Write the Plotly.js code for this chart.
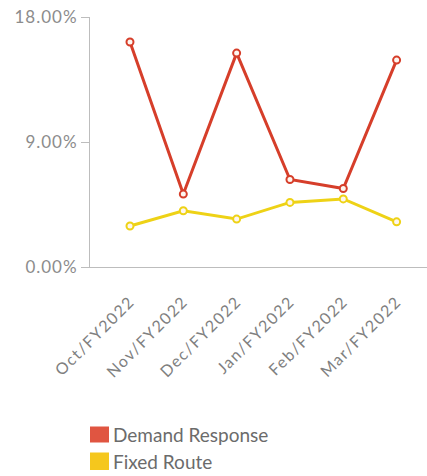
<!DOCTYPE html>
<html>
<head>
<meta charset="utf-8">
<script src="https://cdn.plot.ly/plotly-3.0.1.min.js"></script>
<style>
  html, body { margin: 0; padding: 0; background: #fff; }
  #chart { width: 427px; height: 476px; }
  /* loose tracking on the axis labels */
  #chart .ytick text { letter-spacing: 1px; }
  #chart .xtick text { letter-spacing: 1.5px; }
</style>
</head>
<body>
<div id="chart"></div>
<script>
// Monthly share by service type, FY2022 (percent)
const months = ["Oct/FY2022", "Nov/FY2022", "Dec/FY2022", "Jan/FY2022", "Feb/FY2022", "Mar/FY2022"];
const seriesNames = ["Demand Response", "Fixed Route"];
const demandResponse = [16.2, 5.25, 15.4, 6.3, 5.65, 14.9];
const fixedRoute = [2.95, 4.05, 3.45, 4.65, 4.9, 3.25];
const yTicks = [0, 9, 18];
const yTickText = yTicks.map(v => v.toFixed(2) + "%");

const lineColors = ["#d63e2a", "#eed216"];
const swatchColors = ["#e05541", "#f5c71d"];
const font = "Lato, 'Open Sans', sans-serif";

function lineTrace(name, values, color) {
  return {
    type: "scatter",
    mode: "lines+markers",
    name: name,
    x: months,
    y: values,
    showlegend: false,
    line: { color: color, width: 3 },
    marker: { symbol: "circle", size: 7, color: "#fdf6f0", line: { color: color, width: 2 } },
    hoverinfo: "x+y"
  };
}

const data = [
  lineTrace(seriesNames[0], demandResponse, lineColors[0]),
  lineTrace(seriesNames[1], fixedRoute, lineColors[1])
];

// Legend below the chart: square swatch + label per series
const legendRows = [
  { sy0: -0.702, sy1: -0.638, ty: -0.668 },
  { sy0: -0.812, sy1: -0.742, ty: -0.776 }
];
const shapes = legendRows.map((r, i) => ({
  type: "rect", xref: "paper", yref: "paper",
  x0: 0, x1: 0.0564, y0: r.sy0, y1: r.sy1,
  fillcolor: swatchColors[i], line: { width: 0 }
}));
const annotations = legendRows.map((r, i) => ({
  xref: "paper", yref: "paper",
  x: 0.062, y: r.ty, xanchor: "left", yanchor: "middle",
  text: seriesNames[i], showarrow: false,
  font: { family: font, size: 19, color: "#6b6b6b" }
}));

const layout = {
  width: 427,
  height: 476,
  margin: { l: 90, r: 0, t: 17, b: 209, pad: 0, autoexpand: false },
  paper_bgcolor: "#ffffff",
  plot_bgcolor: "#ffffff",
  font: { family: font, color: "#888888" },
  showlegend: false,
  shapes: shapes,
  annotations: annotations,
  xaxis: {
    type: "category",
    range: [-0.75, 5.57],
    showgrid: false,
    zeroline: false,
    showline: true,
    linecolor: "#bdbdbd",
    linewidth: 1,
    ticks: "",
    tickangle: -45,
    ticklabelstandoff: 18,
    tickfont: { family: font, size: 16, color: "#808080" },
    fixedrange: true
  },
  yaxis: {
    range: [0, 18],
    tickvals: yTicks,
    ticktext: yTickText,
    showgrid: false,
    zeroline: false,
    showline: true,
    linecolor: "#bdbdbd",
    linewidth: 1,
    ticks: "outside",
    ticklen: 8,
    tickcolor: "#bdbdbd",
    tickfont: { family: font, size: 17, color: "#8c8c8c" },
    fixedrange: true
  }
};

Plotly.newPlot("chart", data, layout, { displayModeBar: false, staticPlot: true });
</script>
</body>
</html>
